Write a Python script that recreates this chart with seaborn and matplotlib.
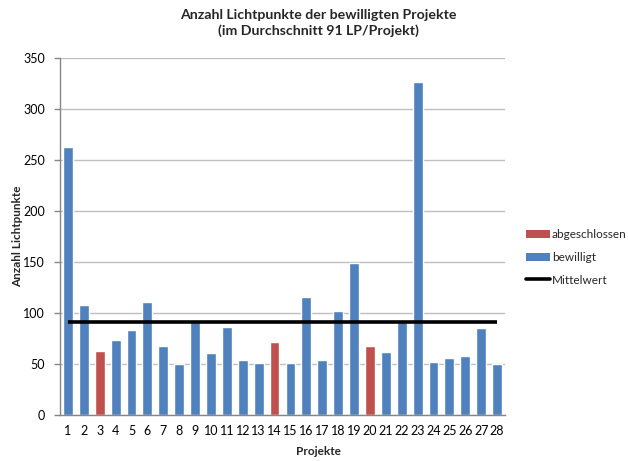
import matplotlib
matplotlib.use("Agg")
import matplotlib.pyplot as plt
import seaborn as sns
import pandas as pd
import numpy as np
from matplotlib.patches import Patch
from matplotlib.lines import Line2D

projekte = [str(i) for i in range(1, 29)]
werte = [263, 108, 63, 74, 83, 111, 68, 50, 91, 61, 86, 54, 51, 72, 51,
         116, 54, 102, 149, 68, 62, 91, 326, 52, 56, 58, 85, 50]
status = ["bewilligt"] * 28
for idx in (3, 14, 20):
    status[idx - 1] = "abgeschlossen"
mittelwert = 91

title = "Anzahl Lichtpunkte der bewilligten Projekte\n(im Durchschnitt 91 LP/Projekt)"
ylabel = "Anzahl Lichtpunkte"
xlabel = "Projekte"
yticks = [0, 50, 100, 150, 200, 250, 300, 350]

blue = "#4F81BD"
red = "#C0504D"
grid_c = "#BFBFBF"
axis_c = "#868686"

df = pd.DataFrame({"Projekt": projekte, "Wert": werte, "Status": status})

sns.set_theme(style="white")
plt.rcParams["font.family"] = ["Lato", "DejaVu Sans"]

fig = plt.figure(figsize=(6.28, 4.61), dpi=100)
ax = fig.add_axes([60 / 628, 1 - 415 / 461, 445 / 628, (415 - 58) / 461])

sns.barplot(data=df, x="Projekt", y="Wert", hue="Status", order=projekte,
            hue_order=["abgeschlossen", "bewilligt"],
            palette={"abgeschlossen": red, "bewilligt": blue},
            dodge=False, width=0.62, saturation=1, legend=False, ax=ax, zorder=2)

ax.plot(np.arange(len(projekte)), [mittelwert] * len(projekte), color="black",
        linewidth=2.6, zorder=3, solid_capstyle="butt")

ax.set_xlim(-0.5, len(projekte) - 0.5)
ax.set_ylim(0, 350)
ax.set_yticks(yticks)
ax.yaxis.grid(True, color=grid_c, linewidth=1, zorder=0)
ax.set_axisbelow(True)

for s in ["top", "right"]:
    ax.spines[s].set_visible(False)
for s in ["left", "bottom"]:
    ax.spines[s].set_color(axis_c)
    ax.spines[s].set_linewidth(1)

ax.set_xticks(np.arange(len(projekte)))
ax.set_xticklabels(projekte)
ax.set_xticks(np.arange(-0.5, len(projekte), 1), minor=True)
ax.tick_params(axis="x", which="major", length=0, labelsize=9, pad=7, colors="black")
ax.tick_params(axis="x", which="minor", length=4, width=1, color=axis_c, direction="out")
ax.tick_params(axis="y", which="major", length=4, width=1, color=axis_c, direction="out",
               labelsize=9, pad=7, labelcolor="black")
ax.tick_params(axis="both", bottom=True, left=True)

ax.set_xlabel(xlabel, fontsize=8.5, fontweight="bold")
ax.set_ylabel(ylabel, fontsize=8.5, fontweight="bold")
ax.xaxis.set_label_coords((318 - 60) / 445, -(451 - 415) / 357)
ax.yaxis.set_label_coords((18 - 60) / 445, 0.5)
ax.xaxis.label.set_va("center")
ax.yaxis.label.set_va("center")

fig.text(318 / 628, 1 - 23 / 461, title, ha="center", va="center",
         fontsize=10.2, fontweight="bold", linespacing=1.3)

handles = [Patch(facecolor=red, edgecolor="none"),
           Patch(facecolor=blue, edgecolor="none"),
           Line2D([0], [0], color="black", linewidth=2.6)]
fig.legend(handles, ["abgeschlossen", "bewilligt", "Mittelwert"],
           loc="upper left", bbox_to_anchor=(526 / 628, 1 - 229 / 461),
           frameon=False, fontsize=8.5, handlelength=2.0, handleheight=0.7,
           handletextpad=0.2, labelspacing=1.0, borderaxespad=0, borderpad=0)

fig.savefig("out.png", dpi=100)
